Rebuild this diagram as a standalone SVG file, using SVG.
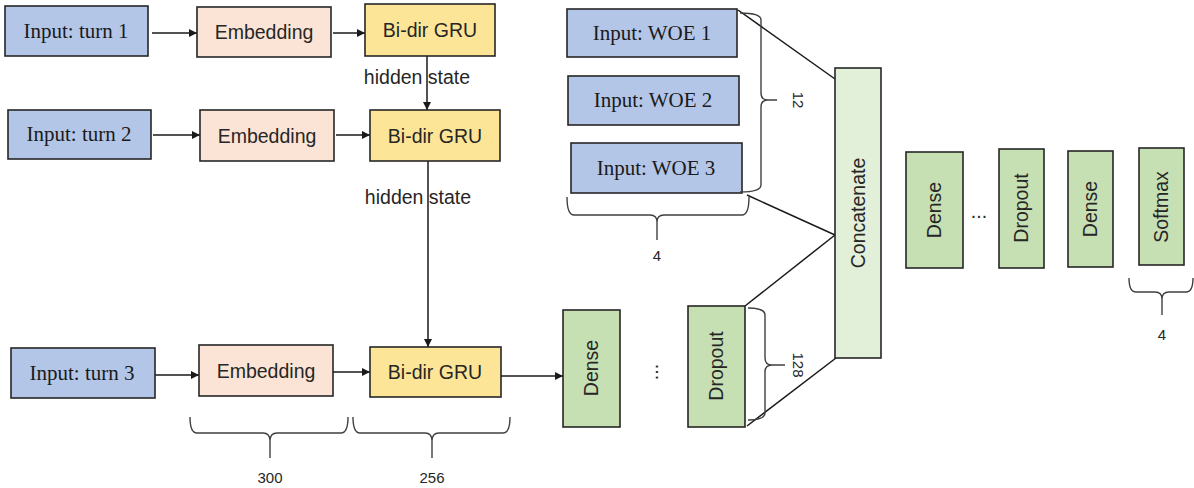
<svg xmlns="http://www.w3.org/2000/svg" width="1194" height="488" viewBox="0 0 1194 488">
  <defs>
    <marker id="arrow" viewBox="0 0 10 10" refX="10" refY="5" markerWidth="8" markerHeight="8" markerUnits="userSpaceOnUse" orient="auto">
      <path d="M0,0 L10,5 L0,10 z" fill="#1a1a1a"/>
    </marker>
  </defs>
  <style>
    .box { stroke: #262626; stroke-width: 1.6; }
    .input { fill: #b4c6e7; }
    .embed { fill: #fbe4d5; }
    .gru { fill: #fde598; }
    .layer { fill: #c6e0b4; }
    .concat { fill: #e2efd9; }
    .serif { font-family: "Liberation Serif", "Times New Roman", serif; font-size: 21px; fill: #1a1a1a; text-anchor: middle; }
    .sans { font-family: "Liberation Sans", Arial, sans-serif; font-size: 19.5px; fill: #262626; text-anchor: middle; }
    .small { font-family: "Liberation Sans", Arial, sans-serif; font-size: 15px; fill: #262626; text-anchor: middle; }
    .link { stroke: #1a1a1a; stroke-width: 1.5; fill: none; }
    .brace { stroke: #404040; stroke-width: 1.4; fill: none; }
  </style>

  <rect width="1194" height="488" fill="#ffffff"/>

  <!-- connectors -->
  <g id="connectors">
    <line class="link" x1="152" y1="33" x2="197" y2="33" marker-end="url(#arrow)"/>
    <line class="link" x1="333" y1="33" x2="365" y2="33" marker-end="url(#arrow)"/>
    <line class="link" x1="153" y1="135" x2="200" y2="135" marker-end="url(#arrow)"/>
    <line class="link" x1="336" y1="135" x2="370" y2="135" marker-end="url(#arrow)"/>
    <line class="link" x1="155" y1="375" x2="199" y2="375" marker-end="url(#arrow)"/>
    <line class="link" x1="333" y1="372" x2="370" y2="372" marker-end="url(#arrow)"/>
    <line class="link" x1="501" y1="376" x2="563" y2="376" marker-end="url(#arrow)"/>
    <line class="link" x1="427" y1="56" x2="427" y2="110" marker-end="url(#arrow)"/>
    <line class="link" x1="428" y1="161" x2="428" y2="347" marker-end="url(#arrow)"/>
    <!-- fan-in to concatenate -->
    <line class="link" x1="738" y1="10" x2="835" y2="79" stroke-width="1.3"/>
    <line class="link" x1="747" y1="195" x2="835" y2="235" stroke-width="1.3"/>
    <line class="link" x1="745" y1="306" x2="835" y2="235" stroke-width="1.3"/>
    <line class="link" x1="747" y1="426" x2="836" y2="358" stroke-width="1.3"/>
  </g>

  <!-- edge labels -->
  <g id="labels">
    <text class="sans" x="417" y="84">hidden state</text>
    <text class="sans" x="418" y="204">hidden state</text>
  </g>

  <!-- turn 1 -->
  <g id="input-turn1">
    <rect class="box input" x="5" y="6" width="143" height="50"/>
    <text class="serif" x="76" y="38">Input: turn 1</text>
  </g>
  <g id="embedding1">
    <rect class="box embed" x="197" y="7" width="134" height="50"/>
    <text class="sans" x="264" y="39">Embedding</text>
  </g>
  <g id="gru1">
    <rect class="box gru" x="365" y="4" width="130" height="52"/>
    <text class="sans" x="430" y="37">Bi-dir GRU</text>
  </g>

  <!-- turn 2 -->
  <g id="input-turn2">
    <rect class="box input" x="8" y="110" width="143" height="49"/>
    <text class="serif" x="79" y="141">Input: turn 2</text>
  </g>
  <g id="embedding2">
    <rect class="box embed" x="200" y="110" width="134" height="51"/>
    <text class="sans" x="267" y="143">Embedding</text>
  </g>
  <g id="gru2">
    <rect class="box gru" x="370" y="110" width="130" height="51"/>
    <text class="sans" x="435" y="143">Bi-dir GRU</text>
  </g>

  <!-- turn 3 -->
  <g id="input-turn3">
    <rect class="box input" x="11" y="348" width="144" height="50"/>
    <text class="serif" x="82" y="380">Input: turn 3</text>
  </g>
  <g id="embedding3">
    <rect class="box embed" x="199" y="345" width="134" height="51"/>
    <text class="sans" x="266" y="378">Embedding</text>
  </g>
  <g id="gru3">
    <rect class="box gru" x="370" y="347" width="131" height="50"/>
    <text class="sans" x="435" y="379">Bi-dir GRU</text>
  </g>

  <!-- dense / dropout after GRU -->
  <g id="dense-a">
    <rect class="box layer" x="563" y="310" width="57" height="117"/>
    <text class="sans" transform="translate(598,368) rotate(-90)">Dense</text>
  </g>
  <text class="sans" transform="translate(658,372) rotate(-90)">...</text>
  <g id="dropout-a">
    <rect class="box layer" x="688" y="306" width="57" height="121"/>
    <text class="sans" transform="translate(723,366) rotate(-90)">Dropout</text>
  </g>

  <!-- WOE inputs -->
  <g id="input-woe1">
    <rect class="box input" x="567" y="9" width="170" height="48"/>
    <text class="serif" x="652" y="40">Input: WOE 1</text>
  </g>
  <g id="input-woe2">
    <rect class="box input" x="568" y="76" width="171" height="49"/>
    <text class="serif" x="653" y="107">Input: WOE 2</text>
  </g>
  <g id="input-woe3">
    <rect class="box input" x="571" y="143" width="171" height="50"/>
    <text class="serif" x="656" y="175">Input: WOE 3</text>
  </g>

  <!-- concatenate -->
  <g id="concatenate">
    <rect class="box concat" x="835" y="68" width="46" height="290"/>
    <text class="sans" transform="translate(865,213) rotate(-90)">Concatenate</text>
  </g>

  <!-- output stack -->
  <g id="dense-b">
    <rect class="box layer" x="906" y="152" width="57" height="116"/>
    <text class="sans" transform="translate(941,210) rotate(-90)">Dense</text>
  </g>
  <text class="sans" x="979" y="218">...</text>
  <g id="dropout-b">
    <rect class="box layer" x="999" y="149" width="45" height="119"/>
    <text class="sans" transform="translate(1028,208) rotate(-90)">Dropout</text>
  </g>
  <g id="dense-c">
    <rect class="box layer" x="1068" y="151" width="45" height="116"/>
    <text class="sans" transform="translate(1097,209) rotate(-90)">Dense</text>
  </g>
  <g id="softmax">
    <rect class="box layer" x="1139" y="148" width="45" height="117"/>
    <text class="sans" transform="translate(1168,207) rotate(-90)">Softmax</text>
  </g>

  <!-- size braces -->
  <g id="braces">
    <path class="brace" d="M190,417 Q190,433 197,433 L263,433 Q270,433 270,441 L270,458 M270,441 Q270,433 277,433 L341,433 Q348,433 348,417"/>
    <text class="small" x="270" y="483">300</text>
    <path class="brace" d="M353,417 Q353,433 360,433 L425,433 Q432,433 432,441 L432,458 M432,441 Q432,433 439,433 L503,433 Q510,433 510,417"/>
    <text class="small" x="432" y="483">256</text>
    <path class="brace" d="M567,197 Q567,215 574,215 L650,215 Q657,215 657,222 L657,240 M657,222 Q657,215 664,215 L742,215 Q749,215 749,197"/>
    <text class="small" x="657" y="261">4</text>
    <path class="brace" d="M740,13 Q761,13 761,20 L761,93 Q761,100 768,100 L777,100 M768,100 Q761,100 761,107 L761,185 Q761,192 740,192"/>
    <text class="small" transform="translate(793,100) rotate(90)">12</text>
    <path class="brace" d="M748,308 Q765,308 765,315 L765,358 Q765,365 772,365 L785,365 M772,365 Q765,365 765,372 L765,413 Q765,420 748,420"/>
    <text class="small" transform="translate(793,365) rotate(90)">128</text>
    <path class="brace" d="M1129,278 Q1129,292 1136,292 L1155,292 Q1162,292 1162,299 L1162,315 M1162,299 Q1162,292 1169,292 L1186,292 Q1193,292 1193,278"/>
    <text class="small" x="1162" y="340">4</text>
  </g>
</svg>
